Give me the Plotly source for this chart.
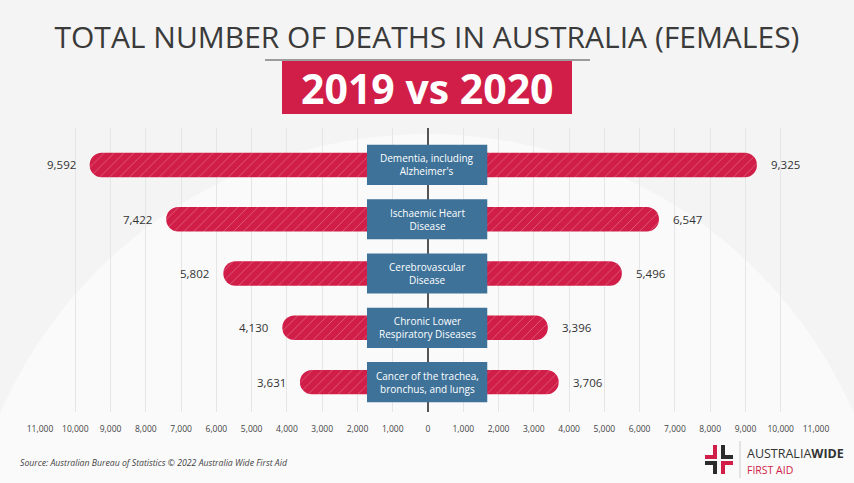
import plotly.graph_objects as go

causes = ["Dementia, including<br>Alzheimer's",
          "Ischaemic Heart<br>Disease",
          "Cerebrovascular<br>Disease",
          "Chronic Lower<br>Respiratory Diseases",
          "Cancer of the trachea,<br>bronchus, and lungs"]
deaths_2019 = [9592, 7422, 5802, 4130, 3631]
deaths_2020 = [9325, 6547, 5496, 3396, 3706]
tick_values = list(range(-11000, 11001, 1000))
tick_labels = ["{:,}".format(abs(v)) for v in tick_values]

RED = "#D11E48"
BLUE = "#3E7299"
DARK = "#333333"
FONT = "Open Sans"

W, H = 854, 483
L, R, T, B = 40, 38, 128, 71


# helpers to place decorations by pixel position (paper coords)
def px(p):
    return (p - L) / (W - L - R)


def py(p):
    return (H - B - p) / (H - T - B)


ypos = list(range(len(causes)))

fig = go.Figure()
pattern = dict(shape="/", fgcolor="rgba(255,255,255,0.6)", size=7, solidity=0.12)
fig.add_trace(go.Bar(y=ypos, x=[-v for v in deaths_2019], orientation="h", width=0.45,
                     marker=dict(color=RED, cornerradius=12, pattern=pattern, line_width=0),
                     name="2019", hoverinfo="skip"))
fig.add_trace(go.Bar(y=ypos, x=deaths_2020, orientation="h", width=0.45,
                     marker=dict(color=RED, cornerradius=12, pattern=pattern, line_width=0),
                     name="2020", hoverinfo="skip"))

shapes = []
annotations = []

# soft background circle
shapes.append(dict(type="circle", xref="paper", yref="paper", layer="below",
                   x0=px(427 - 466), x1=px(427 + 466), y0=py(600 + 466), y1=py(600 - 466),
                   fillcolor="#FAFAFA", line_width=0))

# centre label boxes
for i, c in enumerate(causes):
    shapes.append(dict(type="rect", xref="x", yref="y", layer="above",
                       x0=-1730, x1=1680, y0=i - 0.37, y1=i + 0.37,
                       fillcolor=BLUE, line_width=0))
    annotations.append(dict(x=-25, y=i, text=c, showarrow=False,
                            font=dict(family=FONT, size=10, color="white")))
    annotations.append(dict(x=-deaths_2019[i], y=i, text="{:,}".format(deaths_2019[i]),
                            showarrow=False, xanchor="right", xshift=-12,
                            font=dict(family=FONT, size=11.5, color=DARK)))
    annotations.append(dict(x=deaths_2020[i], y=i, text="{:,}".format(deaths_2020[i]),
                            showarrow=False, xanchor="left", xshift=12,
                            font=dict(family=FONT, size=11.5, color=DARK)))

# header line + red badge
shapes.append(dict(type="line", xref="paper", yref="paper", x0=px(265), x1=px(590),
                   y0=py(60), y1=py(60), line=dict(color="#444444", width=1)))
shapes.append(dict(type="rect", xref="paper", yref="paper", x0=px(282), x1=px(572),
                   y0=py(114), y1=py(61), fillcolor=RED, line_width=0))
annotations.append(dict(xref="paper", yref="paper", x=px(427), y=py(88),
                        xanchor="center", yanchor="middle", text="<b>2019 vs 2020</b>",
                        showarrow=False, font=dict(family=FONT, size=41, color="white")))

# source
annotations.append(dict(xref="paper", yref="paper", x=px(18), y=py(463),
                        xanchor="left", yanchor="middle",
                        text="<i>Source: Australian Bureau of Statistics © 2022 Australia Wide First Aid</i>",
                        showarrow=False, font=dict(family=FONT, size=8.7, color="#444444")))

# logo
logo = [(705, 717, 455, 459, RED), (713, 717, 445, 459, RED),
        (721, 725, 445, 459, "#2B2B2B"), (721, 733, 455, 459, "#2B2B2B"),
        (705, 717, 461, 465, "#2B2B2B"), (713, 717, 461, 474, "#2B2B2B"),
        (721, 733, 461, 465, RED), (721, 725, 461, 474, RED)]
for x0, x1, y0, y1, col in logo:
    shapes.append(dict(type="rect", xref="paper", yref="paper", x0=px(x0), x1=px(x1),
                       y0=py(y1), y1=py(y0), fillcolor=col, line_width=0))
shapes.append(dict(type="line", xref="paper", yref="paper", x0=px(740), x1=px(740),
                   y0=py(478), y1=py(441), line=dict(color="#CCCCCC", width=1)))
annotations.append(dict(xref="paper", yref="paper", x=px(745), y=py(453),
                        xanchor="left", yanchor="middle",
                        text="AUSTRALIA<b>WIDE</b>", showarrow=False,
                        font=dict(family=FONT, size=12.5, color=DARK)))
annotations.append(dict(xref="paper", yref="paper", x=px(745), y=py(469.5),
                        xanchor="left", yanchor="middle",
                        text="FIRST AID", showarrow=False,
                        font=dict(family=FONT, size=10.5, color=RED)))

fig.update_layout(
    width=W, height=H, autosize=False,
    margin=dict(l=L, r=R, t=T, b=B),
    paper_bgcolor="#F4F4F4", plot_bgcolor="rgba(0,0,0,0)",
    barmode="overlay", showlegend=False,
    title=dict(text="TOTAL NUMBER OF DEATHS IN AUSTRALIA (FEMALES)", x=0.5, xanchor="center",
               y=1 - 37 / H, yanchor="middle", font=dict(family=FONT, size=30, color="#3A3A3A")),
    xaxis=dict(range=[-11000, 11000], tickvals=tick_values, ticktext=tick_labels,
               showgrid=True, gridcolor="#E6E6E6", gridwidth=1,
               zeroline=True, zerolinecolor="#555555", zerolinewidth=2,
               ticks="outside", ticklen=9, tickcolor="rgba(0,0,0,0)",
               tickfont=dict(family=FONT, size=8.5, color="#444444"), fixedrange=True),
    yaxis=dict(range=[4.55, -0.68], showgrid=False, zeroline=False, showticklabels=False,
               fixedrange=True),
    shapes=shapes, annotations=annotations,
)

# drop the browser's default body margin so the figure sits at the page origin
fig.write_html("out.html", config={"displayModeBar": False},
               post_script="document.body.style.margin='0';")
